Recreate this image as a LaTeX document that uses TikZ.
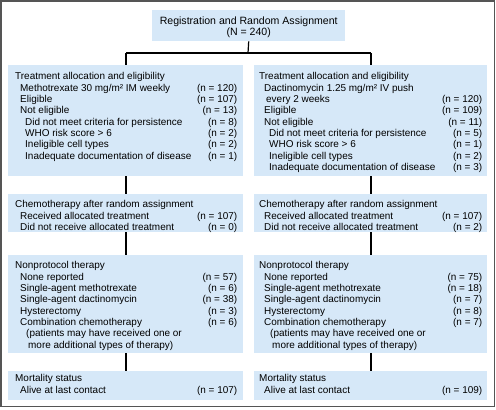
\documentclass[tikz,border=0pt]{standalone}
\usepackage{fontspec}
\setmainfont{Liberation Sans}
\usetikzlibrary{calc}
\definecolor{boxblue}{HTML}{D6E8F8}
\definecolor{framegray}{HTML}{555555}
\newcommand\ia{\hspace*{5bp}}
\newcommand\ib{\hspace*{10bp}}
\begin{document}
\begin{tikzpicture}[x=1bp,y=-1bp,
  box/.style={fill=boxblue, draw=none, inner sep=0pt, anchor=north west},
  txt/.style={inner sep=0pt, anchor=north west, font=\fontsize{10}{11.4}\selectfont},
  conn/.style={draw=black, line width=1.2bp}]
\useasboundingbox (0,0) rectangle (496,409);
\draw[framegray, line width=1.5bp] (1,1) rectangle (494.5,406.5);
% top
\node[box, minimum width=193bp, minimum height=31bp] (top) at (152,10) {};
\node[inner sep=0pt, align=center, font=\fontsize{10.6}{11.4}\selectfont] (toptxt) at ($(top.center)+(0,1.5)$)
  {Registration and Random Assignment\\(N = 240)};
% boxes
\node[box, minimum width=235bp, minimum height=111bp] (L1) at (8,65) {};
\node[box, minimum width=233bp, minimum height=111bp] (R1) at (254,65) {};
\node[box, minimum width=235bp, minimum height=38bp] (L2) at (8,194) {};
\node[box, minimum width=233bp, minimum height=38bp] (R2) at (254,194) {};
\node[box, minimum width=235bp, minimum height=98bp] (L3) at (8,255) {};
\node[box, minimum width=233bp, minimum height=98bp] (R3) at (254,255) {};
\node[box, minimum width=235bp, minimum height=29bp] (L4) at (8,371) {};
\node[box, minimum width=233bp, minimum height=29bp] (R4) at (254,371) {};
% connectors
\coordinate (split) at (248,53);
\coordinate (sl) at (126,53);
\coordinate (sr) at (371,53);
\draw[conn] (top.south) -- (split);
\draw[conn] (sl) -- (sr);
\draw[conn] (sl) -- (sl |- L1.north);
\draw[conn] (sr) -- (sr |- R1.north);
\draw[conn] (L1.south -| sl) -- (L2.north -| sl);
\draw[conn] (R1.south -| sr) -- (R2.north -| sr);
\draw[conn] (L2.south -| sl) -- (L3.north -| sl);
\draw[conn] (R2.south -| sr) -- (R3.north -| sr);
\draw[conn] (L3.south -| sl) -- (L4.north -| sl);
\draw[conn] (R3.south -| sr) -- (R4.north -| sr);
% texts
\node[txt] (L1t) at (15,71.5) {\begin{tabular*}{222bp}{@{}l@{\extracolsep{\fill}}r@{}}
Treatment allocation and eligibility & \\
\ia Methotrexate 30 mg/m² IM weekly & (n = 120)\\
\ia Eligible & (n = 107)\\
\ia Not eligible & (n = 13)\\
\ib Did not meet criteria for persistence & (n = 8)\\
\ib WHO risk score > 6 & (n = 2)\\
\ib Ineligible cell types & (n = 2)\\
\ib Inadequate documentation of disease & (n = 1)
\end{tabular*}};
\node[txt] (R1t) at (259,71.5) {\begin{tabular*}{223bp}{@{}l@{\extracolsep{\fill}}r@{}}
Treatment allocation and eligibility & \\
\ia Dactinomycin 1.25 mg/m² IV push & \\
\hspace*{7bp}every 2 weeks & (n = 120)\\
\ia Eligible & (n = 109)\\
\ia Not eligible & (n = 11)\\
\ib Did not meet criteria for persistence & (n = 5)\\
\ib WHO risk score > 6 & (n = 1)\\
\ib Ineligible cell types & (n = 2)\\
\ib Inadequate documentation of disease & (n = 3)
\end{tabular*}};
\node[txt] (L2t) at (15,199.5) {\begin{tabular*}{222bp}{@{}l@{\extracolsep{\fill}}r@{}}
Chemotherapy after random assignment & \\
\ia Received allocated treatment & (n = 107)\\
\ia Did not receive allocated treatment & (n = 0)
\end{tabular*}};
\node[txt] (R2t) at (259,199.5) {\begin{tabular*}{223bp}{@{}l@{\extracolsep{\fill}}r@{}}
Chemotherapy after random assignment & \\
\ia Received allocated treatment & (n = 107)\\
\ia Did not receive allocated treatment & (n = 2)
\end{tabular*}};
\node[txt] (L3t) at (15,260.5) {\begin{tabular*}{222bp}{@{}l@{\extracolsep{\fill}}r@{}}
Nonprotocol therapy & \\
\ia None reported & (n = 57)\\
\ia Single-agent methotrexate & (n = 6)\\
\ia Single-agent dactinomycin & (n = 38)\\
\ia Hysterectomy & (n = 3)\\
\ia Combination chemotherapy & (n = 6)\\
\hspace*{11bp}(patients may have received one or & \\
\hspace*{13bp}more additional types of therapy) &
\end{tabular*}};
\node[txt] (R3t) at (259,260.5) {\begin{tabular*}{223bp}{@{}l@{\extracolsep{\fill}}r@{}}
Nonprotocol therapy & \\
\ia None reported & (n = 75)\\
\ia Single-agent methotrexate & (n = 18)\\
\ia Single-agent dactinomycin & (n = 7)\\
\ia Hysterectomy & (n = 8)\\
\ia Combination chemotherapy & (n = 7)\\
\hspace*{11bp}(patients may have received one or & \\
\hspace*{13bp}more additional types of therapy) &
\end{tabular*}};
\node[txt] (L4t) at (15,373.5) {\begin{tabular*}{222bp}{@{}l@{\extracolsep{\fill}}r@{}}
Mortality status & \\
\ia Alive at last contact & (n = 107)
\end{tabular*}};
\node[txt] (R4t) at (259,373.5) {\begin{tabular*}{223bp}{@{}l@{\extracolsep{\fill}}r@{}}
Mortality status & \\
\ia Alive at last contact & (n = 109)
\end{tabular*}};
\end{tikzpicture}
\end{document}
